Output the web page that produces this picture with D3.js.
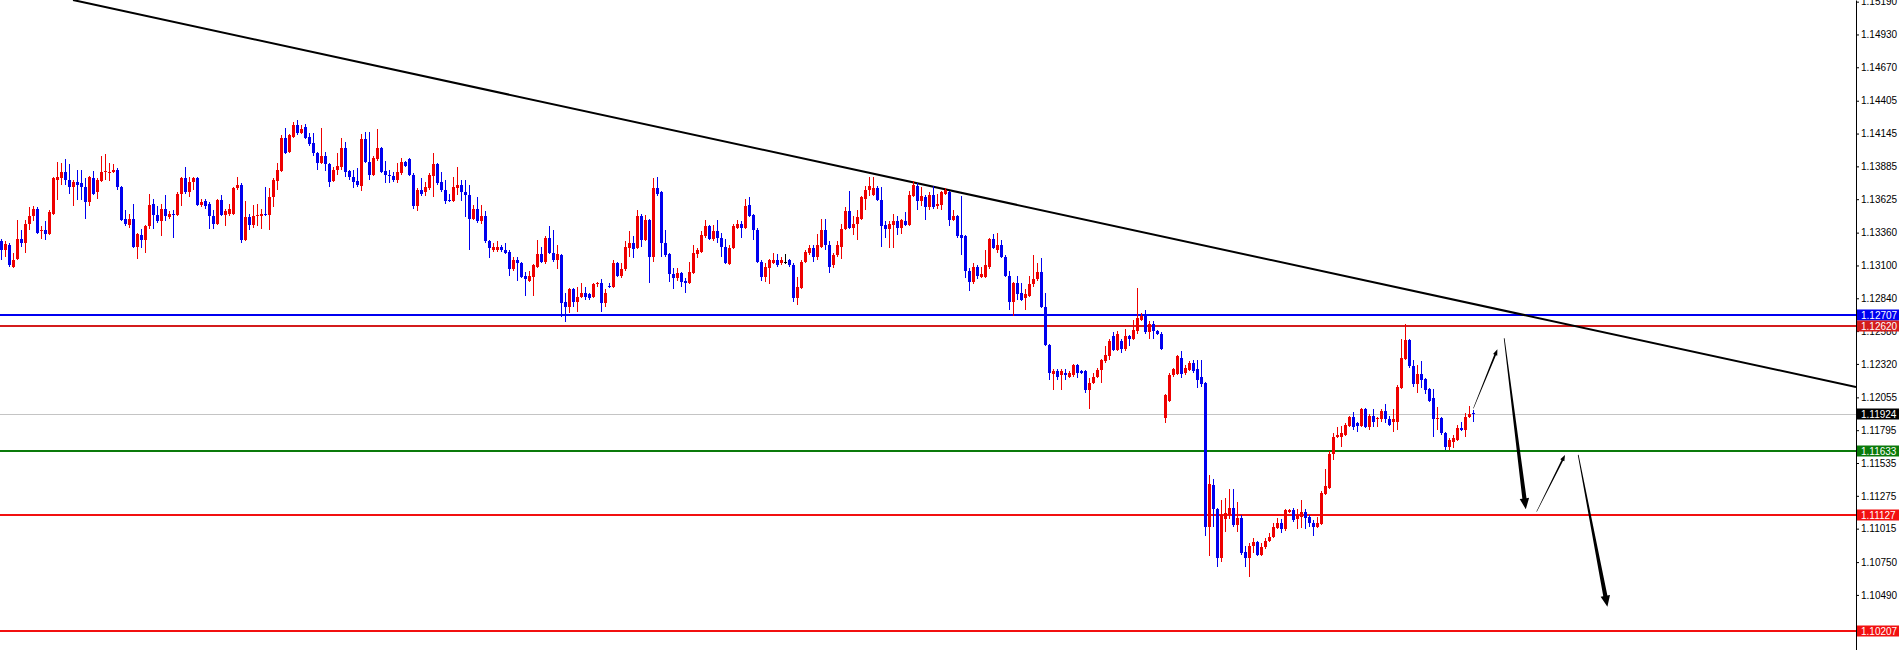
<!DOCTYPE html>
<html><head><meta charset="utf-8">
<script src="https://cdn.jsdelivr.net/npm/d3@7"></script>
<style>html,body{margin:0;padding:0;background:#fff;overflow:hidden}</style>
</head><body><svg id="c" width="1900" height="650"></svg>
<script>
// ---- data (EURUSD-like candles) ----
const openP = [
1.1329,1.1322,1.1326,1.1309,1.1315,1.1331,1.1328,1.1343,1.1349,1.1355,
1.1337,1.1338,1.1335,1.1351,1.1378,1.1379,1.1384,1.1378,1.1372,1.1376,
1.1375,1.1372,1.1360,1.1379,1.1368,1.1377,1.1384,1.1383,1.1384,1.1386,
1.1372,1.1347,1.1342,1.1347,1.1325,1.1334,1.1330,1.1341,1.1359,1.1350,
1.1345,1.1355,1.1348,1.1351,1.1350,1.1367,1.1379,1.1368,1.1376,1.1379,
1.1358,1.1361,1.1359,1.1349,1.1343,1.1362,1.1350,1.1351,1.1351,1.1371,
1.1374,1.1330,1.1348,1.1342,1.1349,1.1349,1.1351,1.1350,1.1364,1.1377,
1.1385,1.1411,1.1400,1.1412,1.1421,1.1415,1.1420,1.1412,1.1407,1.1399,
1.1391,1.1397,1.1390,1.1377,1.1386,1.1388,1.1403,1.1385,1.1380,1.1377,
1.1373,1.1410,1.1392,1.1382,1.1394,1.1403,1.1385,1.1382,1.1381,1.1378,
1.1383,1.1392,1.1394,1.1382,1.1357,1.1370,1.1368,1.1371,1.1381,1.1390,
1.1376,1.1370,1.1362,1.1361,1.1371,1.1374,1.1368,1.1366,1.1347,1.1355,
1.1345,1.1349,1.1329,1.1322,1.1322,1.1325,1.1322,1.1321,1.1307,1.1314,
1.1312,1.1302,1.1298,1.1301,1.1309,1.1319,1.1313,1.1332,1.1320,1.1314,
1.1318,1.1281,1.1277,1.1291,1.1281,1.1285,1.1288,1.1287,1.1285,1.1295,
1.1296,1.1280,1.1294,1.1293,1.1312,1.1302,1.1307,1.1324,1.1328,1.1324,
1.1349,1.1330,1.1346,1.1317,1.1371,1.1368,1.1328,1.1319,1.1303,1.1300,
1.1304,1.1298,1.1296,1.1304,1.1319,1.1321,1.1333,1.1341,1.1331,1.1337,
1.1332,1.1325,1.1311,1.1324,1.1340,1.1343,1.1340,1.1358,1.1350,1.1338,
1.1313,1.1301,1.1308,1.1312,1.1314,1.1312,1.1313,1.1314,1.1310,1.1284,
1.1292,1.1313,1.1320,1.1324,1.1317,1.1325,1.1338,1.1326,1.1310,1.1318,
1.1325,1.1339,1.1353,1.1340,1.1343,1.1347,1.1363,1.1370,1.1366,1.1371,
1.1362,1.1342,1.1339,1.1342,1.1345,1.1340,1.1345,1.1342,1.1365,1.1373,
1.1361,1.1364,1.1356,1.1366,1.1357,1.1358,1.1367,1.1368,1.1346,1.1349,
1.1334,1.1333,1.1306,1.1297,1.1309,1.1301,1.1301,1.1309,1.1331,1.1322,
1.1326,1.1317,1.1302,1.1281,1.1296,1.1288,1.1284,1.1286,1.1295,1.1299,
1.1305,1.1277,1.1247,1.1224,1.1226,1.1223,1.1225,1.1222,1.1223,1.1231,
1.1226,1.1226,1.1211,1.1217,1.1222,1.1227,1.1234,1.1238,1.1254,1.1243,
1.1250,1.1244,1.1254,1.1252,1.1258,1.1267,1.1270,1.1257,1.1264,1.1258,
1.1256,1.1189,1.1203,1.1223,1.1224,1.1237,1.1225,1.1227,1.1233,1.1228,
1.1222,1.1217,1.1103,1.1136,1.1117,1.1078,1.1109,1.1112,1.1118,1.1104,
1.1110,1.1083,1.1078,1.1088,1.1091,1.1081,1.1087,1.1092,1.1095,1.1102,
1.1106,1.1101,1.1115,1.1116,1.1109,1.1111,1.1115,1.1111,1.1106,1.1103,
1.1105,1.1129,1.1134,1.1161,1.1174,1.1174,1.1176,1.1183,1.1190,1.1185,
1.1183,1.1196,1.1182,1.1191,1.1188,1.1188,1.1195,1.1188,1.1186,1.1186,
1.1213,1.1236,1.1251,1.1230,1.1216,1.1224,1.1220,1.1212,1.1205,1.1188,
1.1189,1.1177,1.1166,1.1170,1.1172,1.1181,1.1180,1.1190,1.11932];
const highP = [
1.1331,1.1329,1.1328,1.1320,1.1346,1.1338,1.1346,1.1356,1.1357,1.1356,
1.1341,1.1345,1.1354,1.1380,1.1392,1.1391,1.1394,1.1390,1.1378,1.1386,
1.1386,1.1379,1.1381,1.1385,1.1379,1.1397,1.1398,1.1391,1.1390,1.1387,
1.1373,1.1354,1.1351,1.1359,1.1336,1.1339,1.1342,1.1367,1.1363,1.1357,
1.1359,1.1366,1.1353,1.1354,1.1368,1.1380,1.1388,1.1380,1.1380,1.1380,
1.1363,1.1363,1.1360,1.1354,1.1363,1.1366,1.1355,1.1359,1.1372,1.1380,
1.1375,1.1361,1.1351,1.1358,1.1359,1.1355,1.1372,1.1371,1.1379,1.1391,
1.1413,1.1419,1.1414,1.1424,1.1425,1.1421,1.1422,1.1415,1.1415,1.1400,
1.1419,1.1400,1.1391,1.1388,1.1399,1.1411,1.1408,1.1386,1.1386,1.1387,
1.1414,1.1416,1.1416,1.1397,1.1418,1.1404,1.1393,1.1386,1.1384,1.1391,
1.1395,1.1393,1.1395,1.1383,1.1371,1.1379,1.1376,1.1383,1.1399,1.1391,
1.1384,1.1378,1.1367,1.1380,1.1388,1.1378,1.1378,1.1374,1.1358,1.1364,
1.1358,1.1353,1.1330,1.1328,1.1329,1.1326,1.1328,1.1322,1.1317,1.1317,
1.1313,1.1305,1.1306,1.1311,1.1330,1.1325,1.1333,1.1341,1.1338,1.1326,
1.1319,1.1288,1.1292,1.1292,1.1293,1.1296,1.1293,1.1288,1.1296,1.1297,
1.1299,1.1291,1.1296,1.1314,1.1313,1.1312,1.1329,1.1337,1.1333,1.1354,
1.1351,1.1350,1.1347,1.1379,1.1380,1.1369,1.1338,1.1320,1.1308,1.1308,
1.1305,1.1300,1.1313,1.1326,1.1324,1.1337,1.1346,1.1342,1.1342,1.1346,
1.1336,1.1331,1.1326,1.1343,1.1346,1.1345,1.1363,1.1364,1.1351,1.1340,
1.1314,1.1312,1.1315,1.1320,1.1319,1.1317,1.1319,1.1315,1.1312,1.1301,
1.1314,1.1322,1.1326,1.1326,1.1335,1.1347,1.1347,1.1329,1.1320,1.1329,
1.1343,1.1356,1.1369,1.1349,1.1354,1.1365,1.1373,1.1380,1.1380,1.1373,
1.1372,1.1345,1.1345,1.1351,1.1349,1.1347,1.1352,1.1369,1.1377,1.1375,
1.1372,1.1366,1.1368,1.1373,1.1367,1.1369,1.1371,1.1369,1.1354,1.1350,
1.1365,1.1334,1.1308,1.1312,1.1310,1.1309,1.1322,1.1332,1.1335,1.1336,
1.1330,1.1318,1.1306,1.1297,1.1302,1.1296,1.1291,1.1302,1.1318,1.1312,
1.1316,1.1288,1.1248,1.1228,1.1228,1.1228,1.1228,1.1226,1.1232,1.1232,
1.1227,1.1227,1.1221,1.1225,1.1229,1.1236,1.1246,1.1252,1.1257,1.1258,
1.1252,1.1260,1.1255,1.1267,1.1292,1.1272,1.1275,1.1266,1.1266,1.1259,
1.1257,1.1208,1.1225,1.1229,1.1239,1.1242,1.1231,1.1234,1.1235,1.1235,
1.1235,1.1218,1.1144,1.1141,1.1118,1.1124,1.1126,1.1133,1.1133,1.1123,
1.1112,1.1088,1.1090,1.1094,1.1092,1.1090,1.1094,1.1098,1.1106,1.1110,
1.1109,1.1117,1.1117,1.1118,1.1117,1.1124,1.1117,1.1112,1.1108,1.1111,
1.1131,1.1149,1.1163,1.1177,1.1182,1.1183,1.1185,1.1191,1.1194,1.1186,
1.1197,1.1197,1.1192,1.1196,1.1190,1.1196,1.1200,1.1191,1.1196,1.1215,
1.1252,1.1264,1.1252,1.1235,1.1231,1.1234,1.1221,1.1213,1.1212,1.1198,
1.1190,1.1178,1.1173,1.1176,1.1184,1.1186,1.1193,1.1199,1.11955];
const lowP = [
1.1314,1.1317,1.1309,1.1308,1.1314,1.1325,1.1320,1.1338,1.1345,1.1335,
1.1331,1.1330,1.1334,1.1350,1.1362,1.1374,1.1374,1.1367,1.1357,1.1362,
1.1362,1.1347,1.1357,1.1366,1.1363,1.1376,1.1378,1.1377,1.1383,1.1370,
1.1345,1.1341,1.1340,1.1324,1.1315,1.1324,1.1320,1.1339,1.1339,1.1344,
1.1333,1.1345,1.1347,1.1332,1.1349,1.1357,1.1367,1.1364,1.1370,1.1357,
1.1356,1.1355,1.1339,1.1339,1.1342,1.1349,1.1341,1.1349,1.1350,1.1370,
1.1328,1.1329,1.1338,1.1340,1.1341,1.1339,1.1349,1.1338,1.1356,1.1370,
1.1384,1.1398,1.1399,1.1411,1.1413,1.1414,1.1410,1.1405,1.1397,1.1386,
1.1390,1.1385,1.1372,1.1376,1.1382,1.1386,1.1380,1.1378,1.1371,1.1372,
1.1369,1.1391,1.1378,1.1381,1.1393,1.1383,1.1375,1.1375,1.1376,1.1375,
1.1382,1.1388,1.1381,1.1355,1.1353,1.1365,1.1365,1.1370,1.1364,1.1374,
1.1368,1.1359,1.1360,1.1360,1.1366,1.1361,1.1348,1.1322,1.1346,1.1344,
1.1343,1.1328,1.1316,1.1321,1.1321,1.1321,1.1319,1.1302,1.1306,1.1298,
1.1300,1.1286,1.1297,1.1286,1.1308,1.1312,1.1311,1.1319,1.1313,1.1307,
1.1269,1.1265,1.1272,1.1277,1.1273,1.1284,1.1283,1.1283,1.1284,1.1293,
1.1273,1.1277,1.1292,1.1292,1.1301,1.1300,1.1306,1.1317,1.1316,1.1323,
1.1325,1.1329,1.1296,1.1313,1.1365,1.1317,1.1317,1.1297,1.1291,1.1298,
1.1293,1.1288,1.1295,1.1303,1.1316,1.1320,1.1332,1.1330,1.1329,1.1328,
1.1317,1.1311,1.1310,1.1323,1.1339,1.1332,1.1339,1.1348,1.1330,1.1312,
1.1298,1.1297,1.1295,1.1311,1.1309,1.1310,1.1311,1.1309,1.1281,1.1279,
1.1291,1.1312,1.1318,1.1313,1.1314,1.1324,1.1322,1.1304,1.1308,1.1317,
1.1315,1.1338,1.1339,1.1334,1.1330,1.1346,1.1354,1.1365,1.1365,1.1361,
1.1325,1.1332,1.1324,1.1324,1.1334,1.1335,1.1341,1.1341,1.1364,1.1354,
1.1357,1.1346,1.1354,1.1355,1.1355,1.1354,1.1366,1.1341,1.1345,1.1332,
1.1318,1.1300,1.1290,1.1295,1.1299,1.1300,1.1300,1.1307,1.1323,1.1320,
1.1316,1.1301,1.1275,1.1270,1.1283,1.1282,1.1275,1.1285,1.1293,1.1298,
1.1276,1.1246,1.1219,1.1211,1.1219,1.1211,1.1219,1.1221,1.1222,1.1221,
1.1224,1.1209,1.1196,1.1216,1.1221,1.1217,1.1233,1.1235,1.1242,1.1242,
1.1241,1.1242,1.1246,1.1251,1.1256,1.1266,1.1256,1.1252,1.1252,1.1255,
1.1243,1.1185,1.1202,1.1222,1.1223,1.1221,1.1223,1.1226,1.1225,1.1213,
1.1214,1.1096,1.1080,1.1103,1.1071,1.1075,1.1099,1.1109,1.1103,1.1099,
1.1081,1.1071,1.1063,1.1082,1.1080,1.1080,1.1085,1.1091,1.1094,1.1101,
1.1098,1.1100,1.1114,1.1107,1.1101,1.1102,1.1101,1.1103,1.1096,1.1102,
1.1104,1.1128,1.1133,1.1156,1.1173,1.1166,1.1175,1.1182,1.1180,1.1178,
1.1182,1.1181,1.1180,1.1182,1.1182,1.1186,1.1185,1.1183,1.1178,1.1180,
1.1212,1.1235,1.1229,1.1214,1.1209,1.1213,1.1208,1.1202,1.1174,1.1180,
1.1176,1.1164,1.1164,1.1165,1.1171,1.1179,1.1174,1.1189,1.11863];
const closeP = [
1.1322,1.1327,1.1310,1.1314,1.1331,1.1328,1.1343,1.1349,1.1355,1.1336,
1.1338,1.1335,1.1352,1.1379,1.1380,1.1384,1.1378,1.1372,1.1376,1.1374,
1.1372,1.1360,1.1380,1.1367,1.1378,1.1384,1.1385,1.1384,1.1386,1.1372,
1.1346,1.1343,1.1347,1.1325,1.1335,1.1330,1.1341,1.1358,1.1350,1.1345,
1.1355,1.1349,1.1351,1.1350,1.1367,1.1379,1.1368,1.1376,1.1379,1.1358,
1.1360,1.1357,1.1349,1.1343,1.1362,1.1350,1.1353,1.1355,1.1371,1.1374,
1.1330,1.1348,1.1342,1.1349,1.1350,1.1351,1.1350,1.1364,1.1378,1.1386,
1.1411,1.1399,1.1413,1.1421,1.1415,1.1418,1.1411,1.1406,1.1399,1.1391,
1.1397,1.1390,1.1376,1.1386,1.1389,1.1403,1.1384,1.1380,1.1376,1.1374,
1.1410,1.1392,1.1382,1.1395,1.1403,1.1384,1.1382,1.1381,1.1378,1.1384,
1.1392,1.1389,1.1382,1.1357,1.1370,1.1367,1.1372,1.1382,1.1390,1.1375,
1.1370,1.1361,1.1361,1.1372,1.1374,1.1368,1.1366,1.1347,1.1355,1.1345,
1.1349,1.1329,1.1324,1.1325,1.1325,1.1322,1.1320,1.1307,1.1314,1.1312,
1.1301,1.1299,1.1302,1.1310,1.1319,1.1313,1.1332,1.1320,1.1314,1.1319,
1.1280,1.1277,1.1291,1.1281,1.1285,1.1288,1.1285,1.1284,1.1295,1.1296,
1.1280,1.1288,1.1293,1.1312,1.1302,1.1307,1.1325,1.1328,1.1323,1.1349,
1.1330,1.1346,1.1317,1.1371,1.1367,1.1328,1.1318,1.1303,1.1300,1.1304,
1.1297,1.1296,1.1305,1.1320,1.1322,1.1334,1.1341,1.1331,1.1337,1.1332,
1.1325,1.1312,1.1324,1.1341,1.1343,1.1340,1.1357,1.1349,1.1338,1.1313,
1.1301,1.1309,1.1314,1.1314,1.1310,1.1314,1.1313,1.1310,1.1284,1.1293,
1.1313,1.1321,1.1324,1.1317,1.1326,1.1338,1.1326,1.1309,1.1318,1.1326,
1.1339,1.1353,1.1340,1.1343,1.1348,1.1364,1.1370,1.1373,1.1371,1.1362,
1.1341,1.1339,1.1343,1.1345,1.1340,1.1346,1.1342,1.1366,1.1374,1.1361,
1.1365,1.1356,1.1366,1.1356,1.1359,1.1368,1.1370,1.1346,1.1349,1.1333,
1.1332,1.1306,1.1297,1.1309,1.1302,1.1303,1.1310,1.1331,1.1324,1.1326,
1.1317,1.1302,1.1281,1.1296,1.1287,1.1283,1.1287,1.1295,1.1299,1.1305,
1.1277,1.1247,1.1225,1.1226,1.1222,1.1226,1.1223,1.1225,1.1231,1.1225,
1.1225,1.1211,1.1217,1.1222,1.1227,1.1235,1.1239,1.1250,1.1243,1.1256,
1.1244,1.1254,1.1252,1.1259,1.1268,1.1270,1.1257,1.1264,1.1258,1.1256,
1.1244,1.1207,1.1223,1.1228,1.1238,1.1224,1.1229,1.1233,1.1226,1.1219,
1.1216,1.1103,1.1137,1.1117,1.1078,1.1112,1.1114,1.1118,1.1104,1.1110,
1.1082,1.1078,1.1088,1.1091,1.1081,1.1087,1.1092,1.1095,1.1103,1.1106,
1.1101,1.1116,1.1116,1.1108,1.1112,1.1115,1.1110,1.1106,1.1103,1.1106,
1.1130,1.1135,1.1161,1.1174,1.1176,1.1177,1.1184,1.1190,1.1182,1.1183,
1.1196,1.1182,1.1191,1.1186,1.1189,1.1195,1.1188,1.1184,1.1188,1.1214,
1.1237,1.1251,1.1230,1.1216,1.1224,1.1219,1.1211,1.1203,1.1188,1.1189,
1.1177,1.1166,1.1172,1.1173,1.1181,1.1180,1.1190,1.1192,1.11924];

const tickPrices = [1.15190,1.14930,1.14670,1.14405,1.14145,1.13885,1.13625,1.13360,1.13100,1.12840,
  1.12580,1.12320,1.12055,1.11795,1.11535,1.11275,1.11015,1.10750,1.10490];
const levelPrices = [1.12707, 1.12620, 1.11633, 1.11127, 1.10207];
const levelColors = ['#0000f0', '#d41c1c', '#0a7a0a', '#f21010', '#f21010'];
const lastPrice = 1.11924;
const trendStart = [18, 1.15203];
const trendEnd = [463.75, 1.12137];
const arrowFrom = [[368.1, 1.11968], [375.8, 1.12523], [383.9, 1.11149], [394.3, 1.11599]];
const arrowTo   = [[374.1, 1.12436], [381.2, 1.11168], [391.0, 1.11599], [401.6, 1.10397]];
const arrowBold = [false, true, false, true];

// ---- drawing ----
const W = 1900, H = 650, axisX = 1856;
const svg = d3.select('#c');
const x = d3.scaleLinear().domain([0, 463.75]).range([1, axisX]);
const y = d3.scaleLinear().domain([1.100536, 1.15203]).range([H, 0]);
const FONT = '"Liberation Sans", Arial, sans-serif';
const BULL = '#ee0000', BEAR = '#0000ee';

const plot = svg.append('g');
plot.append('defs').append('clipPath').attr('id','pc')
  .append('rect').attr('x',0).attr('y',0).attr('width',axisX).attr('height',H);

// current price line (gray)
plot.append('line').attr('x1',0).attr('x2',axisX)
  .attr('y1',Math.round(y(lastPrice))+0.5).attr('y2',Math.round(y(lastPrice))+0.5)
  .attr('stroke','#c4c4c4').attr('stroke-width',1);

// horizontal levels
plot.selectAll('line.lvl').data(levelPrices).enter().append('line')
  .attr('class','lvl').attr('x1',0).attr('x2',axisX)
  .attr('y1',d=>Math.round(y(d))).attr('y2',d=>Math.round(y(d)))
  .attr('stroke',(d,i)=>levelColors[i]).attr('stroke-width',2);

// trend line
plot.append('line').attr('clip-path','url(#pc)')
  .attr('x1',x(trendStart[0])).attr('y1',y(trendStart[1]))
  .attr('x2',x(trendEnd[0])).attr('y2',y(trendEnd[1]))
  .attr('stroke','#000').attr('stroke-width',2);

// candles
const idx = d3.range(openP.length);
const cg = plot.append('g').attr('shape-rendering','crispEdges');
const col = i => openP[i] === closeP[i] ? '#000' : (closeP[i] > openP[i] ? BULL : BEAR);
cg.selectAll('rect.w').data(idx).enter().append('rect')
  .attr('x', i => Math.round(x(i)))
  .attr('width', 1)
  .attr('y', i => Math.round(y(highP[i])))
  .attr('height', i => Math.max(1, Math.round(y(lowP[i])) - Math.round(y(highP[i]))))
  .attr('fill', col);
cg.selectAll('rect.b').data(idx).enter().append('rect')
  .attr('x', i => Math.round(x(i)) - 1)
  .attr('width', 3)
  .attr('y', i => Math.round(y(Math.max(openP[i], closeP[i]))))
  .attr('height', i => Math.max(1, Math.round(y(Math.min(openP[i], closeP[i]))) - Math.round(y(Math.max(openP[i], closeP[i])))))
  .attr('fill', col);

// arrows (tapered shaft + head)
function arrowPath(x1,y1,x2,y2,w1,w2,hl,hw){
  const dx=x2-x1, dy=y2-y1, L=Math.hypot(dx,dy), ux=dx/L, uy=dy/L, nx=-uy, ny=ux;
  const bx=x2-ux*hl, by=y2-uy*hl;
  const p=[[x1+nx*w1/2,y1+ny*w1/2],[bx+nx*w2/2,by+ny*w2/2],[bx+nx*hw/2,by+ny*hw/2],[x2,y2],
           [bx-nx*hw/2,by-ny*hw/2],[bx-nx*w2/2,by-ny*w2/2],[x1-nx*w1/2,y1-ny*w1/2]];
  return 'M'+p.map(q=>q[0].toFixed(2)+','+q[1].toFixed(2)).join('L')+'Z';
}
plot.selectAll('path.arr').data(d3.range(arrowFrom.length)).enter().append('path')
  .attr('d', k => {
    const a=arrowFrom[k], b=arrowTo[k];
    return arrowBold[k]
      ? arrowPath(x(a[0]),y(a[1]),x(b[0]),y(b[1]),0.8,4.2,11,9.5)
      : arrowPath(x(a[0]),y(a[1]),x(b[0]),y(b[1]),0.5,1.8,6,4.5);
  })
  .attr('fill','#000');

// right price axis
const axis = d3.axisRight(y).tickValues(tickPrices).tickSize(3).tickSizeOuter(0).tickPadding(2)
  .tickFormat(d3.format('.5f'));
const ag = svg.append('g').attr('transform',`translate(${axisX},0)`).call(axis);
ag.select('.domain').attr('stroke','#000');
ag.selectAll('.tick line').attr('stroke','#000');
ag.selectAll('.tick text').attr('font-family',FONT).attr('font-size',10).attr('fill','#000');
ag.attr('font-family',FONT);

// price labels for levels and current price
const labels = levelPrices.map((p,i)=>({p, c:levelColors[i]})).concat([{p:lastPrice, c:'#000'}]);
const lg = svg.append('g');
lg.selectAll('rect').data(labels).enter().append('rect')
  .attr('x', axisX+1).attr('width', 42)
  .attr('y', d => Math.round(y(d.p)) - 5.5).attr('height', 11)
  .attr('fill', d => d.c);
lg.selectAll('text').data(labels).enter().append('text')
  .attr('x', axisX+5).attr('y', d => Math.round(y(d.p))).attr('dy','0.36em')
  .attr('font-family',FONT).attr('font-size',10).attr('fill','#fff')
  .text(d => d3.format('.5f')(d.p));
</script></body></html>
